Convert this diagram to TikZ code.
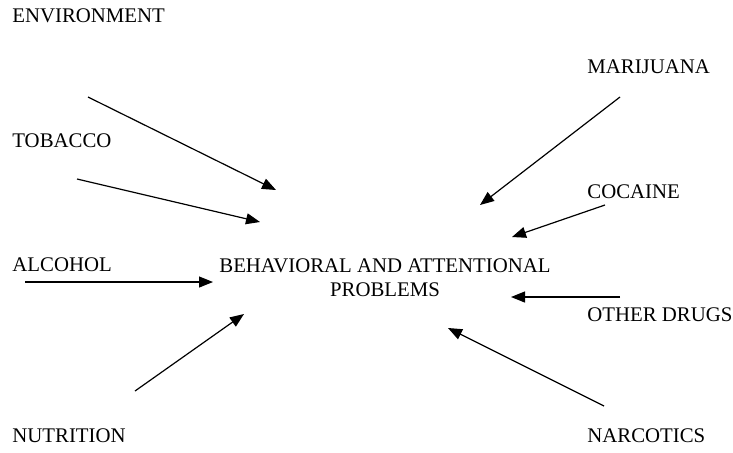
\documentclass[tikz,border=0pt]{standalone}
\usepackage{fontspec}
\setmainfont{Liberation Serif}
\usepackage{tikz}
\usetikzlibrary{arrows.meta, positioning}
\tikzset{
    factor/.style={font=\fontsize{10.4}{12.5}\selectfont, inner sep=0pt, anchor=west},
    outcome/.style={font=\fontsize{10.4}{12}\selectfont, inner sep=0pt, align=center},
    effectarrow/.style={-{Triangle[length=7pt, width=5.5pt]}, line width=0.6pt, draw=black},
}

\begin{document}
\begin{tikzpicture}[x=0.5pt, y=-0.5pt]
                    \useasboundingbox (0,0) rectangle (733,452);
                    % Outcome
                    \node[outcome] (problems) at (385, 278) {BEHAVIORAL AND ATTENTIONAL\\PROBLEMS};
                    
                    % Left factors
                    \node[factor] (env) at (12, 16) {ENVIRONMENT};
                    \node[factor] (tobacco) at (12, 141) {TOBACCO};
                    \node[factor] (alcohol) at (12, 265) {ALCOHOL};
                    \node[factor] (nutrition) at (12, 436) {NUTRITION};
                    
                    % Right factors
                    \node[factor] (marijuana) at (587, 67) {MARIJUANA};
                    \node[factor] (cocaine) at (587, 192) {COCAINE};
                    \node[factor] (otherdrugs) at (587, 315) {OTHER DRUGS};
                    \node[factor] (narcotics) at (587, 436) {NARCOTICS};
                    
                    % Arrow ends
                    \coordinate (env-s) at (88, 97);    \coordinate (env-e) at (276, 190);
                    \coordinate (tob-s) at (77, 179);   \coordinate (tob-e) at (260, 222);
                    \coordinate (alc-s) at (25, 282);   \coordinate (alc-e) at (213, 282);
                    \coordinate (nut-s) at (135, 391);  \coordinate (nut-e) at (244, 314);
                    \coordinate (mar-s) at (620, 97);   \coordinate (mar-e) at (480, 205);
                    \coordinate (coc-s) at (605, 205);  \coordinate (coc-e) at (512, 237);
                    \coordinate (oth-s) at (620, 297);  \coordinate (oth-e) at (511, 297);
                    \coordinate (nar-s) at (604, 406);  \coordinate (nar-e) at (448, 328);
                    
                    % Effects
                    \draw[effectarrow] (env-s) -- (env-e);
                    \draw[effectarrow] (tob-s) -- (tob-e);
                    \draw[effectarrow] (alc-s) -- (alc-e);
                    \draw[effectarrow] (nut-s) -- (nut-e);
                    \draw[effectarrow] (mar-s) -- (mar-e);
                    \draw[effectarrow] (coc-s) -- (coc-e);
                    \draw[effectarrow] (oth-s) -- (oth-e);
                    \draw[effectarrow] (nar-s) -- (nar-e);
                \end{tikzpicture}
\end{document}
